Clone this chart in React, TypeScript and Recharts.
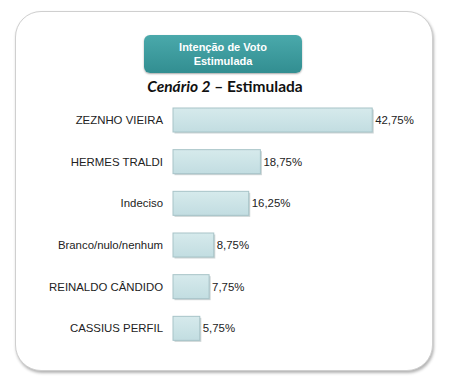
import { Bar, BarChart, LabelList, XAxis, YAxis } from "recharts";

const categorias = [
  "ZEZNHO VIEIRA",
  "HERMES TRALDI",
  "Indeciso",
  "Branco/nulo/nenhum",
  "REINALDO CÂNDIDO",
  "CASSIUS PERFIL",
];
const percentuais = [42.75, 18.75, 16.25, 8.75, 7.75, 5.75];

const dados = categorias.map((nome, i) => ({ nome, valor: percentuais[i] }));

const formatPct = (v: unknown) =>
  Number(v).toFixed(2).replace(".", ",") + "%";

function BarraBisel(props: any) {
  const { x, y, width, height } = props;
  if (!width || width <= 0) return null;
  return (
    <g>
      <rect x={x + 1.5} y={y + 1.5} width={width} height={height} fill="#9aa9ab" opacity={0.5} />
      <rect x={x} y={y} width={width} height={height} fill="url(#gradBarra)" stroke="#a7c4c8" strokeWidth={1} />
    </g>
  );
}

export default function App() {
  return (
    <div style={{ position: "fixed", left: 0, top: 0, width: 452, height: 379, background: "#fff", fontFamily: "Arial, 'Liberation Sans', sans-serif" }}>
      <div
        style={{
          position: "absolute",
          left: 15,
          top: 11,
          width: 416,
          height: 358,
          border: "1px solid #cfcfcf",
          borderRadius: 26,
          boxShadow: "1px 2px 3px rgba(0,0,0,0.3)",
          background: "#fff",
        }}
      />
      <div
        style={{
          position: "absolute",
          left: 144,
          top: 35,
          width: 158,
          height: 38,
          borderRadius: 6,
          background: "linear-gradient(#4aa9ab, #328e91)",
          boxShadow: "0 1px 2px rgba(0,0,0,0.35)",
          color: "#fff",
          fontWeight: "bold",
          fontSize: 11,
          lineHeight: "14px",
          textAlign: "center",
          paddingTop: 5,
          boxSizing: "border-box",
        }}
      >
        Intenção de Voto
        <br />
        Estimulada
      </div>
      <div
        style={{
          position: "absolute",
          left: 0,
          width: 450,
          top: 77,
          textAlign: "center",
          fontFamily: "Lato, 'Open Sans', sans-serif",
          fontWeight: "bold",
          fontSize: 15.5,
          color: "#111",
        }}
      >
        <i>Cenário 2</i> – Estimulada
      </div>
      <div style={{ position: "absolute", left: 0, top: 0 }}>
        <BarChart
          width={452}
          height={379}
          data={dados}
          layout="vertical"
          margin={{ top: 99, right: 46, bottom: 30, left: 0 }}
          barCategoryGap={17}
        >
          <defs>
            <linearGradient id="gradBarra" x1="0" y1="0" x2="0" y2="1">
              <stop offset="0%" stopColor="#d6eaec" />
              <stop offset="100%" stopColor="#c2dde1" />
            </linearGradient>
          </defs>
          <XAxis type="number" domain={[0, 50]} hide />
          <YAxis
            type="category"
            dataKey="nome"
            width={173}
            axisLine={false}
            tickLine={false}
            tickMargin={4}
            tick={{ fill: "#222", fontSize: 11.4, fontFamily: "Arial, 'Liberation Sans', sans-serif" }}
          />
          <Bar dataKey="valor" barSize={24} shape={<BarraBisel />} isAnimationActive={false}>
            <LabelList
              dataKey="valor"
              position="right"
              offset={3}
              formatter={formatPct}
              style={{ fill: "#222", fontSize: 11.4, fontFamily: "Arial, 'Liberation Sans', sans-serif" }}
            />
          </Bar>
        </BarChart>
      </div>
    </div>
  );
}
